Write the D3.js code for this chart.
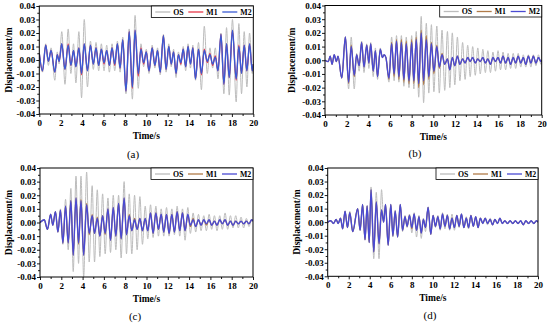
<!DOCTYPE html>
<html>
<head>
<meta charset="utf-8">
<script src="https://cdn.jsdelivr.net/npm/d3@7/dist/d3.min.js"></script>
<style>
  body { margin: 0; background: #fff; }
  svg { display: block; }
  text { font-family: "Liberation Serif", "Times New Roman", serif; }
</style>
</head>
<body>
<svg id="fig" width="550" height="324"></svg>
<script>
// tick labels / categories
var timeTicks = [0, 2, 4, 6, 8, 10, 12, 14, 16, 18, 20];
var dispTicks = [-0.04, -0.03, -0.02, -0.01, 0, 0.01, 0.02, 0.03, 0.04];
var seriesNames = ['OS', 'M1', 'M2'];

// values are in mm (1e-3 m), read at the turning points of each record
// (a)
var tA  = [0,0.3,0.6,0.85,1.1,1.45,1.68,1.85,2.1,2.4,2.7,2.95,3.2,3.42,3.7,3.95,4.2,4.5,4.78,5.05,5.3,5.55,5.8,6.05,6.3,6.55,6.8,7.05,7.3,7.55,7.8,8.1,8.4,8.7,8.95,9.25,9.5,9.75,10,10.25,10.55,10.8,11.05,11.3,11.6,11.85,12.1,12.33,12.55,12.78,13,13.23,13.45,13.68,13.9,14.13,14.35,14.6,14.88,15.15,15.42,15.7,15.95,16.2,16.45,16.7,16.98,17.25,17.5,17.75,18.05,18.4,18.65,18.9,19.15,19.4,19.65,19.9,20];
var osA = [5,-9,12,-4,9,-15,6,-3,21,-18,23,-10,12,-17,21,-28,30,-20,14,-7,13,-8,12,-8,11,-9,12,-8,14,-9,17,-25,23,-29,33,-21,12,-5,8,-10,11,-6,9,-11,19,-9,12,-5,8,-13,6,-4,10,-8,12,-6,11,-15,13,-22,25,-10,9,-6,9,-14,20,-25,24,-26,30,-31,27,-25,21,-20,20,-10,-3];
var m1A = [5,-8,11,-1,7,-9,4,-1,12,-7,12,-4,7,-5,9,-11,12,-8,11,-3,9,-4,8,-3,7,-4,9,-4,12,-6,15,-23,21,-21,22,-12,9,-3,6,-8,9,-4,7,-9,18,-7,10,-3,6,-10,4,-3,8,-5,10,-3,9,-14,8,-11,8,-2,5,-4,3,-8,19,-18,12,-13,22,-15,11,-10,11,-8,12,-8,-3];
var m2A = [5,-8,11,-1,7,-9,4,-1,12,-7,11,-4,7,-5,9,-10,12,-8,11,-3,9,-4,8,-2,7,-4,9,-3,12,-6,15,-23,21,-20,22,-10,8,-2,6,-8,9,-4,7,-9,18,-7,10,-3,6,-10,4,-2,8,-5,10,-3,9,-14,8,-10,7,-1,4,-3,2,-8,19,-18,12,-13,22,-14,10,-10,11,-8,12,-8,-3];

// (b)
var tB  = [0,0.3,0.48,0.65,0.85,1.05,1.2,1.55,1.88,2.18,2.42,2.7,2.92,3.15,3.38,3.6,3.85,4.05,4.22,4.45,4.65,4.85,5.1,5.3,5.45,5.62,5.9,6.15,6.38,6.6,6.82,7.05,7.28,7.5,7.75,8,8.2,8.42,8.65,8.88,9.1,9.35,9.58,9.82,10.05,10.32,10.55,10.8,11.05,11.3,11.52,11.75,11.98,12.22,12.45,12.7,12.93,13.17,13.4,13.63,13.87,14.1,14.33,14.57,14.8,15.03,15.27,15.5,15.73,15.97,16.2,16.43,16.67,16.9,17.13,17.37,17.6,17.83,18.07,18.3,18.53,18.77,19,19.23,19.47,19.7,19.93,20];
var osB = [0,-1,3,-3,4,-1,3,-13,17,-21,17,-21,5,-8,14,-9,12,-6,13,-12,9,-14,9,2,4,2,-16,17,-15,18,-16,18,-19,17,-20,18,-21,21,-27,32,-31,27,-24,26,-23,25,-24,22,-22,21,-20,20,-18,17,-15,13,-14,11,-12,10,-11,9,-10,8,-9,7,-9,6,-8,7,-7,6,-7,5,-6,5,-6,5,-5,4,-5,4,-5,4,-4,4,-3,0];
var m1B = [0,-1,3,-3,4,-1,3,-13,17,-17,11,-12,4,-4,13,-5,11,-2,12,-8,7,-12,8,2,4,2,-14,13,-12,15,-14,15,-16,14,-17,15,-17,17,-20,22,-18,18,-14,13,-10,11,-6,5,-3,1,-7,2,-4,3,-3,1,-2,2,-1,2,-2,1,-1,2,-2,1,-3,2,-1,2,-2,3,-2,2,-3,2,-2,3,-2,2,-3,3,-2,3,-2,2,-1,0];
var m2B = [0,-1,3,-3,4,-1,3,-13,17,-16,10,-11,4,-4,13,-5,11,-2,12,-8,7,-12,8,2,4,2,-13,12,-10,14,-12,13,-14,12,-15,13,-15,15,-17,20,-15,15,-12,12,-8,10,-5,4,-3,1,-7,2,-4,3,-3,1,-2,2,-1,2,-2,1,-1,2,-2,1,-3,2,-1,2,-2,3,-2,2,-3,2,-2,3,-2,2,-3,3,-2,3,-2,2,-1,0];

// (c)
var tC  = [0,0.4,0.7,1,1.2,1.45,1.68,1.92,2.15,2.4,2.65,2.9,3.12,3.38,3.62,3.85,4.1,4.38,4.62,4.9,5.12,5.38,5.62,5.88,6.12,6.38,6.62,6.88,7.12,7.38,7.62,7.9,8.12,8.38,8.62,8.88,9.12,9.38,9.62,9.88,10.12,10.38,10.62,10.88,11.12,11.38,11.62,11.88,12.12,12.38,12.62,12.88,13.12,13.38,13.62,13.88,14.12,14.38,14.62,14.88,15.12,15.38,15.62,15.88,16.12,16.38,16.62,16.88,17.12,17.38,17.62,17.88,18.12,18.38,18.62,18.88,19.12,19.38,19.62,19.88,20];
var osC = [0,2,-5,6,-2,8,-7,10,-16,17,-20,25,-36,34,-30,34,-40,37,-29,27,-29,24,-25,21,-23,18,-22,20,-20,20,-26,30,-23,21,-23,20,-20,19,-16,12,-12,13,-11,12,-10,10,-10,11,-10,10,-9,12,-10,10,-13,11,-8,7,-7,6,-6,5,-6,6,-5,5,-6,5,-5,7,-5,5,-4,5,-4,4,-4,3,-3,2,1];
var m1C = [0,2,-5,6,-2,8,-7,9,-15,12,-15,16,-24,18,-16,17,-24,14,-9,6,-8,4,-10,5,-9,10,-13,11,-10,14,-12,18,-9,6,-6,3,-5,3,-6,3,-6,7,-8,7,-5,6,-7,6,-8,6,-7,8,-6,7,-6,5,-3,3,-3,2,-2,2,-2,2,-2,1,-2,2,-1,2,-2,1,-2,1,-1,1,-1,1,-1,2,1];
var m2C = [0,2,-5,6,-2,8,-7,9,-15,12,-15,16,-24,18,-15,16,-24,13,-8,5,-8,3,-10,5,-8,10,-13,11,-10,14,-12,18,-9,5,-6,2,-5,3,-6,3,-6,7,-8,7,-5,6,-7,6,-8,6,-7,8,-6,7,-6,6,-2,2,-3,2,-2,2,-1,2,-2,1,-2,2,-1,2,-2,1,-2,1,-1,1,-1,1,-1,2,1];

// (d)
var tD  = [0,0.3,0.55,0.8,1,1.22,1.42,1.65,1.88,2.1,2.38,2.85,3.08,3.32,3.55,3.75,3.95,4.12,4.38,4.62,4.88,5.12,5.32,5.5,5.75,6,6.2,6.42,6.65,6.9,7.12,7.35,7.55,7.78,8,8.22,8.45,8.68,8.9,9.1,9.3,9.55,9.8,10.02,10.25,10.48,10.7,10.92,11.15,11.38,11.6,11.82,12.05,12.28,12.5,12.72,12.95,13.18,13.4,13.62,13.85,14.08,14.3,14.52,14.75,14.98,15.2,15.45,15.68,15.9,16.15,16.38,16.6,16.85,17.1,17.35,17.6,17.85,18.1,18.35,18.6,18.85,19.1,19.35,19.6,19.85,20];
var osD = [0,1,-1,2,-1,3,-5,8,-4,8,-7,10,-6,13,-13,12,-15,26,-27,22,-27,24,2,13,-17,13,-11,9,-11,13,-7,5,-4,6,-8,7,-11,5,-12,3,-7,11,-9,5,-4,5,-6,7,-5,6,-6,6,-6,5,-4,6,-4,4,-5,5,-3,4,-4,3,-1,3,-2,3,-2,2,-1,3,-1,1,-1,1,-1,1,-1,1,-2,1,-1,1,-1,1,0];
var m1D = [0,1,-1,2,-1,3,-5,8,-4,7,-7,10,-6,13,-13,12,-15,24,-22,15,-16,9,0,13,-17,13,-10,8,-11,13,-6,4,-3,5,-5,6,-6,4,-8,2,-4,11,-9,5,-3,4,-5,6,-3,5,-5,3,-4,5,-3,6,-4,3,-4,5,-3,4,-4,3,-1,3,-1,2,-2,2,-1,3,-1,1,-1,1,-1,1,-1,1,-2,1,-1,1,-1,1,0];
var m2D = [0,1,-1,2,-1,3,-5,8,-4,7,-7,10,-6,13,-13,12,-15,24,-22,15,-16,9,0,13,-17,13,-10,8,-11,13,-6,4,-3,5,-4,6,-6,4,-8,2,-4,11,-9,5,-3,4,-5,6,-3,5,-5,3,-4,5,-3,6,-4,3,-4,5,-3,4,-4,3,-1,3,-1,2,-2,2,-1,3,-1,1,-1,1,-1,1,-1,1,-2,1,-1,1,-1,1,0];

var colorsA = ['#bcbcbc', '#e8394a', '#3a5ad4']
  , colorsB = ['#bcbcbc', '#b07a48', '#4a4ad2'];

var panels = [
  { t: tA, s: [osA, m1A, m2A], col: colorsA, cap: '(a)', x0: 39.3, x1: 253.3, y0: 6,   y1: 114,   yl: 9,   xl: 139, cx: 133, cy: 158 },
  { t: tB, s: [osB, m1B, m2B], col: colorsB, cap: '(b)', x0: 325,  x1: 541.7, y0: 5.5, y1: 115,   yl: 292, xl: 140, cx: 415, cy: 157 },
  { t: tC, s: [osC, m1C, m2C], col: colorsB, cap: '(c)', x0: 40,   x1: 253,   y0: 168, y1: 277,   yl: 9,   xl: 302, cx: 135, cy: 320 },
  { t: tD, s: [osD, m1D, m2D], col: colorsB, cap: '(d)', x0: 327.7,x1: 538,   y0: 168, y1: 276.3, yl: 297, xl: 301, cx: 430, cy: 319 }
];

var svg = d3.select('#fig');
var fmt = function (d) { return d.toFixed(2); };

panels.forEach(function (p, pi) {
  var x = d3.scaleLinear().domain([0, 20]).range([p.x0, p.x1])
    , y = d3.scaleLinear().domain([-0.04, 0.04]).range([p.y1, p.y0])
    , g = svg.append('g')
    , clipId = 'clip' + pi;

  svg.append('clipPath').attr('id', clipId)
    .append('rect')
      .attr('x', p.x0).attr('y', p.y0)
      .attr('width', p.x1 - p.x0).attr('height', p.y1 - p.y0);

  // minor ticks
  var minorX = d3.axisBottom(x).tickValues(d3.range(1, 20, 2)).tickSize(2).tickFormat('');
  var minorY = d3.axisLeft(y).tickValues([-0.035, -0.025, -0.015, -0.005, 0.005, 0.015, 0.025, 0.035]).tickSize(2).tickFormat('');
  g.append('g').attr('transform', 'translate(0,' + p.y1 + ')').call(minorX);
  g.append('g').attr('transform', 'translate(' + p.x0 + ',0)').call(minorY);

  g.append('g')
    .attr('transform', 'translate(0,' + p.y1 + ')')
    .call(d3.axisBottom(x).tickValues(timeTicks).tickSize(3).tickPadding(2.5));
  g.append('g')
    .attr('transform', 'translate(' + p.x0 + ',0)')
    .call(d3.axisLeft(y).tickValues(dispTicks).tickFormat(fmt).tickSize(3).tickPadding(1));

  g.selectAll('.domain').remove();
  g.selectAll('.tick line').attr('stroke', '#000').attr('stroke-width', 0.9);
  g.selectAll('.tick text')
    .attr('fill', '#000')
    .style('font-family', '"Liberation Serif", serif')
    .style('font-weight', 'bold')
    .style('font-size', '9px');

  // lines
  var lines = g.append('g').attr('clip-path', 'url(#' + clipId + ')');
  p.s.forEach(function (vals, si) {
    var pts = p.t.map(function (t, i) { return [t, vals[i] / 1000]; });
    lines.append('path')
      .datum(pts)
      .attr('fill', 'none')
      .attr('stroke', p.col[si])
      .attr('stroke-width', si === 0 ? 1 : (si === 1 ? 1.2 : 1.4))
      .attr('stroke-linejoin', 'round')
      .attr('d', d3.line()
        .x(function (d) { return x(d[0]); })
        .y(function (d) { return y(d[1]); })
        .curve(d3.curveMonotoneX));
  });

  // frame
  g.append('rect')
    .attr('x', p.x0).attr('y', p.y0)
    .attr('width', p.x1 - p.x0).attr('height', p.y1 - p.y0)
    .attr('fill', 'none').attr('stroke', '#000').attr('stroke-width', 1);

  // legend
  var lx = p.x1 - 102, ly = p.y0;
  var leg = g.append('g').attr('transform', 'translate(' + lx + ',' + ly + ')');
  leg.append('rect')
    .attr('x', 0).attr('y', 0).attr('width', 102).attr('height', 11.5)
    .attr('fill', '#fff').attr('stroke', '#000').attr('stroke-width', 0.8);
  var offs = [4, 37, 71];
  seriesNames.forEach(function (name, si) {
    leg.append('line')
      .attr('x1', offs[si]).attr('x2', offs[si] + 15)
      .attr('y1', 6).attr('y2', 6)
      .attr('stroke', p.col[si]).attr('stroke-width', 1.3);
    leg.append('text')
      .attr('x', offs[si] + 18).attr('y', 8.8)
      .style('font-weight', 'bold').style('font-size', '7.8px')
      .text(name);
  });

  // axis titles
  svg.append('text')
    .attr('transform', 'translate(' + p.yl + ',' + ((p.y0 + p.y1) / 2) + ') rotate(-90)')
    .attr('text-anchor', 'middle').attr('dominant-baseline', 'central')
    .style('font-weight', 'bold').style('font-size', '9.5px')
    .text('Displacement/m');
  svg.append('text')
    .attr('x', (p.x0 + p.x1) / 2).attr('y', p.xl)
    .attr('text-anchor', 'middle')
    .style('font-weight', 'bold').style('font-size', '9.5px')
    .text('Time/s');
  svg.append('text')
    .attr('x', p.cx).attr('y', p.cy)
    .attr('text-anchor', 'middle')
    .style('font-size', '11px')
    .text(p.cap);
});
</script>
</body>
</html>
